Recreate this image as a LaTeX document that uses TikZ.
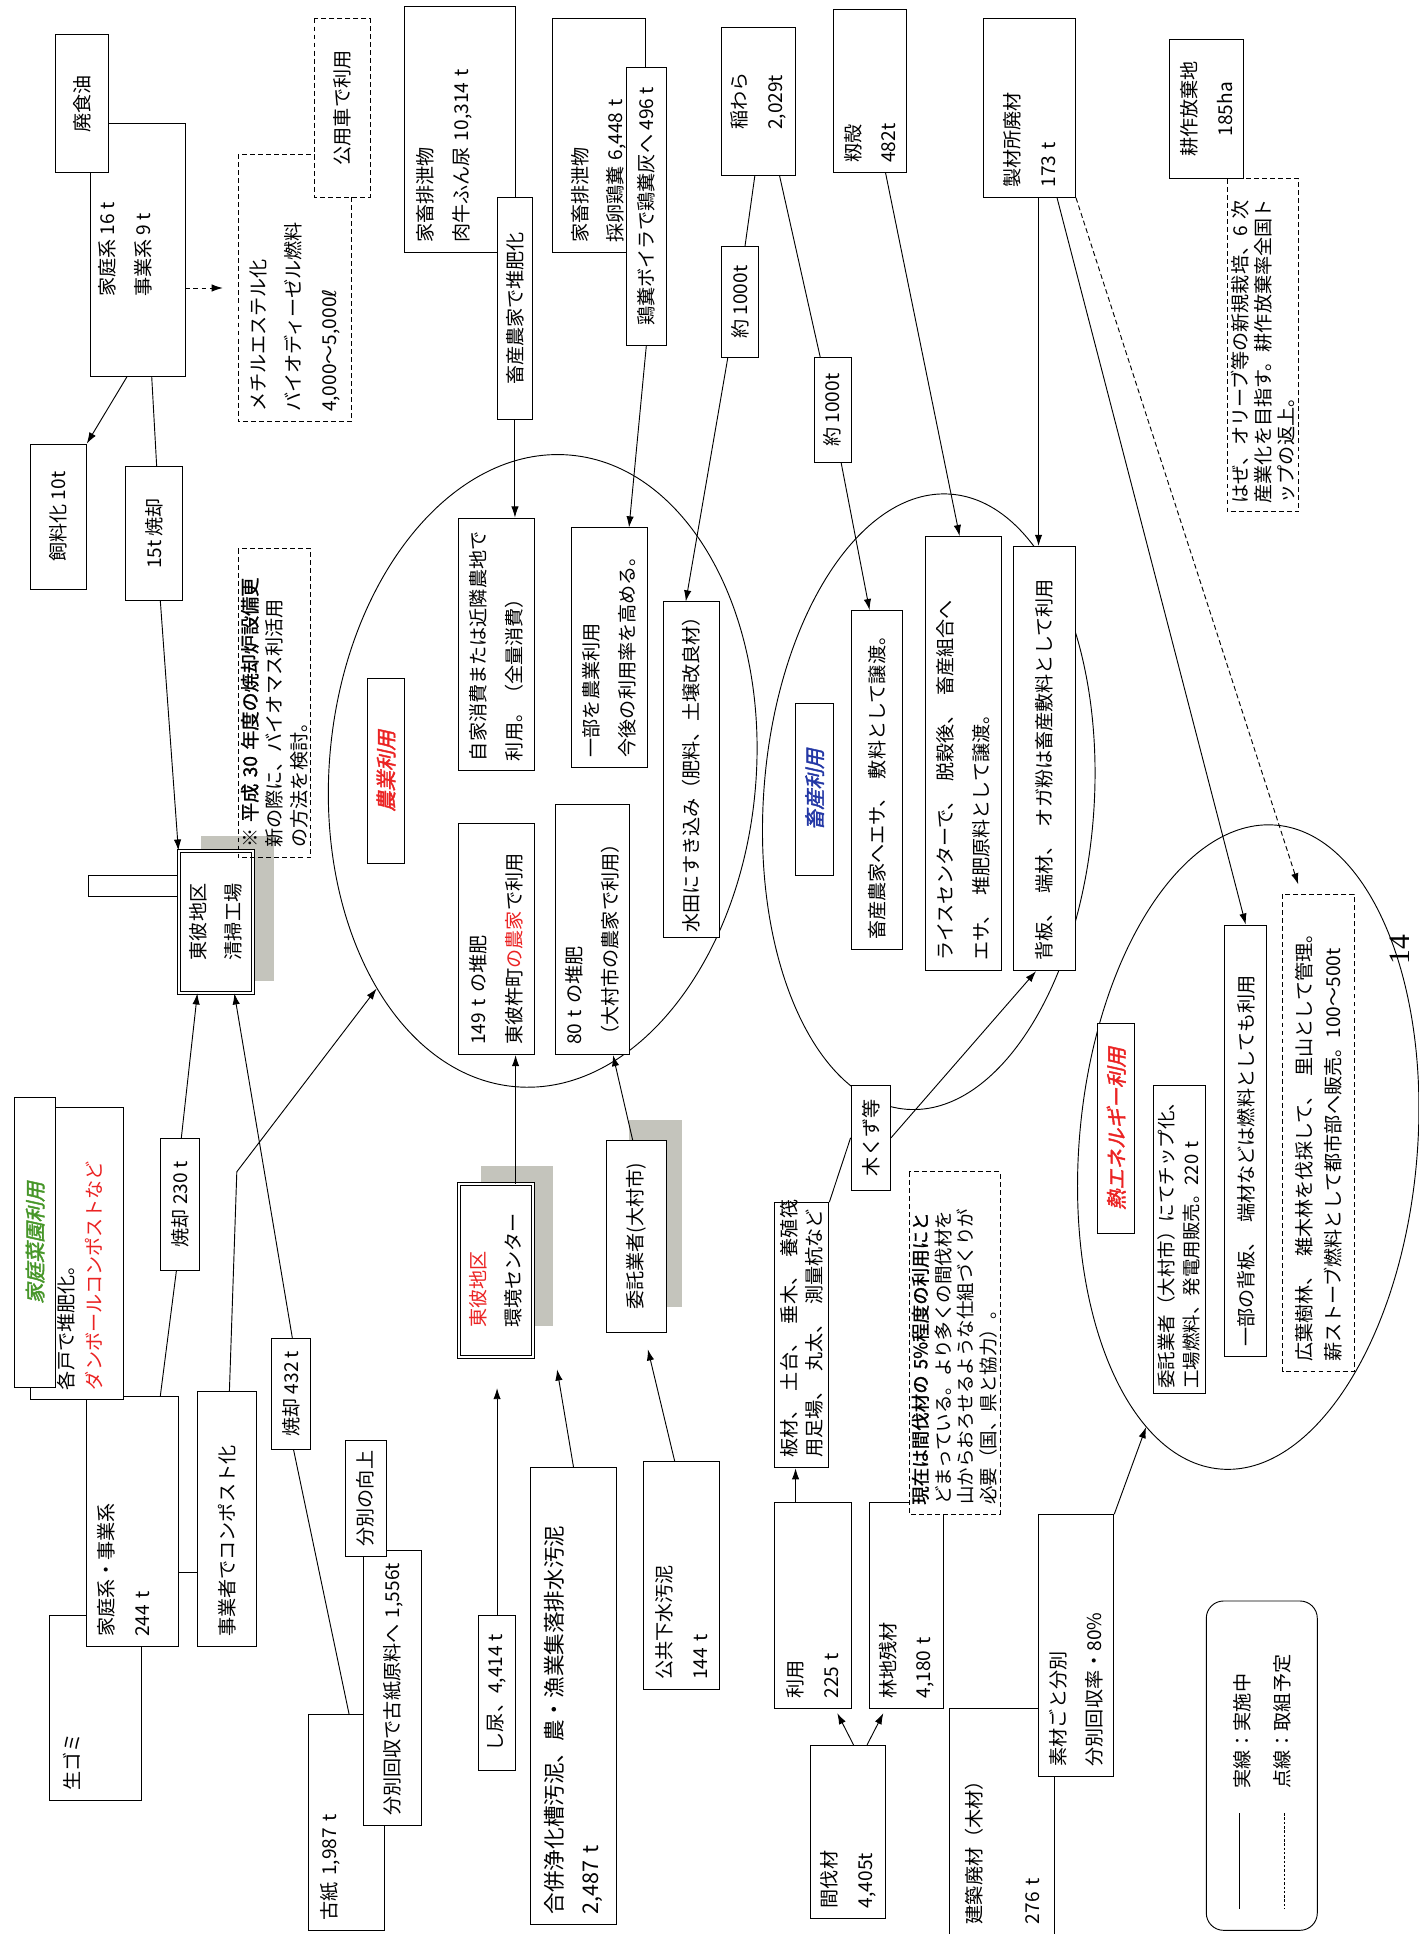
\documentclass[tikz,border=0pt]{standalone}
\usepackage{fontspec}
\setmainfont{Noto Sans CJK JP}
\newfontfamily\jpslant[FakeSlant=0.22,FakeBold=2]{Noto Sans CJK JP}
\newfontfamily\jpbold[FakeBold=1.2]{Noto Sans CJK JP}
\newfontfamily\symfont{DejaVu Sans}
\newfontfamily\pagefont{Liberation Serif}
\usetikzlibrary{shapes.geometric,arrows.meta}

\definecolor{usered}{RGB}{235,35,35}
\definecolor{useblue}{RGB}{35,55,165}
\definecolor{usegreen}{RGB}{70,150,40}
\definecolor{shadowgrey}{RGB}{196,196,188}

\tikzset{every picture/.style={line width=0.75pt}}
\tikzset{
  jbox/.style={draw,fill=white,rotate=90,inner xsep=8pt,inner ysep=2pt,align=left,
    font=\fontsize{15.5}{29}\selectfont},
  dashbox/.style={jbox,dash pattern=on 4pt off 2.5pt},
  dblbox/.style={jbox,double,double distance=1.6pt},
  titlebox/.style={jbox,align=center,font=\fontsize{16.5}{20}\selectfont\jpslant},
  region/.style={draw,ellipse,inner sep=0pt},
  arr/.style={-{Latex[length=9pt,width=6pt]}},
}

\begin{document}
\begin{tikzpicture}[x=1pt,y=1pt,yscale=-1,xscale=1]
\useasboundingbox (0,0) rectangle (1150,1568);

%Shape: Ellipse
\node[region,rotate=-5,minimum width=346pt,minimum height=514pt] (nogyo) at (440,625) {};
%Shape: Ellipse
\node[region,rotate=-4,minimum width=268pt,minimum height=500pt] (chikusan) at (753,650) {};
%Shape: Ellipse
\node[region,rotate=-5,minimum width=274pt,minimum height=524pt] (netsu) at (1012,930) {};

%Shape: Rectangle
\fill[shadowgrey] (163,678) rectangle (222,795);
\fill[shadowgrey] (390,945) rectangle (448,1075);
\fill[shadowgrey] (510,908) rectangle (553,1060);
%Shape: Rectangle
\draw (72,710) rectangle (145,727);

% Text Node
\node[jbox,minimum width=205pt,minimum height=77pt] (kk) at (111.5,202.5) {家庭系 16 t\\事業系 9 t\\[-8pt]\mbox{}};
% Text Node
\node[jbox,align=center,minimum width=112pt,minimum height=43pt] (haishoku) at (66.5,84) {廃食油};
% Text Node
\node[jbox,align=center,minimum width=118pt,minimum height=45pt] (shiryo) at (47.5,419) {飼料化 10t};
% Text Node
\node[jbox,align=center,minimum width=109pt,minimum height=46pt] (shokyaku15) at (125,432.5) {15t 焼却};
% Text Node
\node[dashbox,text width=201pt,minimum height=92pt] (methyl) at (239,233.5) {メチルエステル化\\バイオディーゼル燃料\\4,000～5,000{\symfont ℓ}};
% Text Node
\node[dashbox,align=center,minimum width=145pt,minimum height=45pt] (koyosha) at (277.5,87.5) {公用車で利用};
% Text Node
\node[dblbox,minimum width=115pt,minimum height=60pt] (seiso) at (175,747.5) {東彼地区\\清掃工場};
% Text Node
\node[dashbox,fill=none,text width=234pt,minimum height=59pt,font=\fontsize{15.5}{20}\selectfont] (note30) at (222.5,570) {※ {\jpbold 平成 30 年度の焼却炉設備更}\\新の際に、バイオマス利活用\\の方法を検討。};

% Text Node
\node[jbox,text width=184pt,minimum height=90pt] (haisetsu1) at (373,105) {家畜排泄物\\肉牛ふん尿 10,314 t\\\mbox{}};
% Text Node
\node[jbox,align=center,minimum width=180pt,minimum height=29pt] (taihika) at (417.5,250) {畜産農家で堆肥化};
% Text Node
\node[jbox,text width=174pt,minimum height=75pt] (haisetsu2) at (485.5,110) {家畜排泄物\\採卵鶏糞 6,448 t};
% Text Node
\node[jbox,align=center,minimum width=225pt,minimum height=32pt] (boiler) at (524,167.5) {鶏糞ボイラで鶏糞灰へ 496 t};
% Text Node
\node[jbox,minimum width=120pt,minimum height=60pt] (inawara) at (615,82) {稲わら\\2,029t};
% Text Node
\node[jbox,align=center,minimum width=90pt,minimum height=30pt] (yaku1) at (600,245) {約 1000t};
% Text Node
\node[jbox,align=center,minimum width=85pt,minimum height=30pt] (yaku2) at (675,332.5) {約 1000t};
% Text Node
\node[jbox,text width=116pt,minimum height=59pt] (momigara) at (705.5,74) {籾殻\\482t};
% Text Node
\node[jbox,text width=129pt,minimum height=75pt] (seizai) at (834.5,87.5) {製材所廃材\\173 t};
% Text Node
\node[jbox,align=center,minimum width=113pt,minimum height=60pt] (kosaku) at (978,88.5) {耕作放棄地\\185ha};
% Text Node
\node[dashbox,text width=256pt,inner xsep=7pt,minimum height=58pt,font=\fontsize{15.5}{19}\selectfont] (haze) at (1024,280) {はぜ、オリーブ等の新規栽培、6 次\\産業化を目指す。耕作放棄率全国ト\\ップの返上。};

% Text Node
\node[titlebox,text=usered,minimum width=150pt,minimum height=30pt] (nogyoT) at (313,625) {農業利用};
% Text Node
\node[jbox,text width=189pt,minimum height=61pt] (jika) at (402.5,522.5) {自家消費または近隣農地で\\利用。（全量消費）};
% Text Node
\node[jbox,text width=178pt,minimum height=62pt] (ichibu) at (494,525) {一部を農業利用\\今後の利用率を高める。};
% Text Node
\node[jbox,text width=264pt,inner xsep=4pt,minimum height=45pt] (suiden) at (560.5,624) {水田にすき込み（肥料、土壌改良材）};
% Text Node
\node[jbox,text width=171pt,minimum height=61pt] (t149) at (402.5,761.5) {149 t の堆肥\\東彼杵町{\color{usered}の農家}で利用};
% Text Node
\node[jbox,text width=187pt,minimum height=60pt] (t80) at (480,753.5) {80 t の堆肥\\（大村市の農家で利用）};

% Text Node
\node[titlebox,text=useblue,minimum width=140pt,minimum height=31pt] (chikusanT) at (660.5,640) {畜産利用};
% Text Node
\node[jbox,text width=259pt,minimum height=42pt] (farm) at (711,632.5) {畜産農家へエサ、\enspace 敷料として譲渡。};
% Text Node
\node[jbox,text width=336pt,minimum height=62pt] (rice) at (781,611) {ライスセンターで、\enspace 脱穀後、\enspace 畜産組合へ\\エサ、\enspace 堆肥原料として譲渡。};
% Text Node
\node[jbox,text width=328pt,minimum height=50pt] (seban) at (847,615) {背板、\enspace 端材、\enspace オガ粉は畜産敷料として利用};

% Text Node
\node[titlebox,text=usered,minimum width=170pt,minimum height=30pt] (netsuT) at (905,915) {熱エネルギー利用};
% Text Node
\node[jbox,text width=242pt,inner xsep=4pt,minimum height=42pt,font=\fontsize{15}{20}\selectfont] (chip) at (956,1005) {委託業者（大村市）にてチップ化、\\工場燃料、発電用販売。220 t};
% Text Node
\node[jbox,text width=334pt,minimum height=34pt] (ichibuseban) at (1010,925) {一部の背板、\enspace 端材などは燃料としても利用};
% Text Node
\node[dashbox,text width=371pt,minimum height=58pt,font=\fontsize{15.5}{23}\selectfont] (koyo) at (1069,918.5) {広葉樹林、\enspace 雑木林を伐採して、\enspace 里山として管理。\\薪ストーブ燃料として都市部へ販売。100～500t};
% Text Node
\node[rotate=90,font=\fontsize{24}{24}\selectfont\pagefont] (pagenum) at (1135,770) {14};

% Text Node
\node[jbox,text width=134pt,minimum height=75pt] (namagomi) at (77.5,1385) {生ゴミ\\[10pt]\mbox{}};
% Text Node
\node[jbox,text width=187pt,minimum height=75pt] (k244) at (107.5,1233.5) {家庭系・事業系\\244 t\\[-14pt]\mbox{}};
% Text Node
\node[jbox,text width=221pt,minimum height=75pt,font=\fontsize{15.5}{22}\selectfont] (kakko) at (62.5,1016.5) {\mbox{}\\[-4pt]各戸で堆肥化。\\{\color{usered}ダンボールコンポストなど}};
% Text Node
\node[titlebox,text=usegreen,minimum width=235pt,minimum height=33pt] (saienT) at (28.5,1007.5) {家庭菜園利用};
% Text Node
\node[jbox,align=center,minimum width=107pt,minimum height=32pt] (shokyaku230) at (146,976.5) {焼却 230 t};
% Text Node
\node[jbox,text width=191pt,minimum height=48pt] (jc) at (184,1231.5) {事業者でコンポスト化};
% Text Node
\node[jbox,align=center,minimum width=90pt,minimum height=32pt] (shokyaku432) at (236,1130) {焼却 432 t};
% Text Node
\node[jbox,text width=159pt,minimum height=62pt] (koshi) at (281,1477.5) {古紙 1,987 t\\\mbox{}};
% Text Node
\node[jbox,text width=207pt,minimum height=47pt] (kaishu) at (318.5,1368.5) {分別回収で古紙原料へ 1,556t};
% Text Node
\node[jbox,align=center,minimum width=90pt,minimum height=33pt] (bunbetsu) at (296.5,1215) {分別の向上};

% Text Node
\node[dblbox,minimum width=140pt,minimum height=60pt] (kankyo) at (402,1030) {{\color{usered}東彼地区}\\環境センター};
% Text Node
\node[jbox,align=center,minimum width=155pt,minimum height=48pt] (itaku) at (516,1002.5) {委託業者(大村市)};
% Text Node
\node[jbox,align=center,minimum width=125pt,minimum height=30pt] (shinyo) at (403,1372.5) {し尿、4,414 t};
% Text Node
\node[jbox,text width=354pt,minimum height=70pt,font=\fontsize{17.5}{29}\selectfont] (gappei) at (465,1375) {合併浄化槽汚泥、農・漁業集落排水汚泥\\2,487 t};
% Text Node
\node[jbox,text width=169pt,minimum height=61pt] (koukyo) at (552.5,1277.5) {公共下水汚泥\\144 t};

% Text Node
\node[jbox,text width=124pt,minimum height=61pt] (kanbatsu) at (687.5,1485) {間伐材\\4,405t};
% Text Node
\node[jbox,text width=151pt,minimum height=62pt] (riyo) at (659,1301.5) {利用\\225 t};
% Text Node
\node[jbox,text width=151pt,minimum height=60pt] (rinchi) at (735,1301.5) {林地残材\\4,180 t};
% Text Node
\node[jbox,text width=199pt,minimum height=44pt,font=\fontsize{15.5}{20}\selectfont] (itazai) at (650,1082.5) {板材、\enspace 土台、\enspace 垂木、\enspace 養殖筏\\用足場、\enspace 丸太、\enspace 測量杭など};
% Text Node
\node[jbox,align=center,minimum width=85pt,minimum height=32pt] (kikuzu) at (706,922.5) {木くず等};
% Text Node
\node[dashbox,text width=262pt,minimum height=72pt,font=\fontsize{15}{18.5}\selectfont] (genzai) at (774,1089) {{\jpbold 現在は間伐材の 5\%程度の利用にと}\\どまっている。より多くの間伐材を\\山からおろせるような仕組づくりが\\必要（国、県と協力）。};
% Text Node
\node[jbox,text width=167pt,minimum height=85pt] (kenchiku) at (812.5,1476.5) {建築廃材（木材）\\[18pt]276 t};
% Text Node
\node[jbox,text width=196pt,minimum height=61pt] (sozai) at (872.5,1334) {素材ごと分別\\分別回収率・80\%};

%Shape: Rounded Rectangle
\node[draw,rounded corners=14pt,rotate=90,minimum width=267pt,minimum height=90pt] (legend) at (1023,1431.5) {};
% Text Node
\node[rotate=90,align=left,text width=120pt,inner sep=0pt,font=\fontsize{15.5}{33}\selectfont] (legtext) at (1023.5,1390) {実線：実施中\\点線：取組予定};
\draw (1005,1470) -- (1005,1548);
\draw[dash pattern=on 2pt off 1.5pt] (1041,1470) -- (1041,1548);

%Straight Lines
\draw[arr] (kk.west -| 103,0) -- (shiryo.south east);
\draw (kk.west -| 123,0) -- (shokyaku15.east -| 127,0);
\draw[arr] (shokyaku15.west -| 130,0) -- (seiso.north east);
\draw[arr,dash pattern=on 4pt off 2.5pt,shorten >=12pt] (kk.south |- methyl.north) -- (methyl.north);
\draw[arr] (taihika.west) -- (jika.east -| taihika.west);
\draw[arr] (boiler.west) -- (ichibu.east -| 510,0);
\draw (inawara.west -| 612,0) -- (yaku1.east -| 604,0);
\draw[arr] (yaku1.west -| 590,0) -- (suiden.east -| 556,0);
\draw (inawara.west -| 632,0) -- (yaku2.east -| 665,0);
\draw[arr] (yaku2.west -| 682,0) -- (farm.east -| 705,0);
\draw[arr] (momigara.west -| 718,0) -- (rice.east -| 778,0);
\draw[arr] (seizai.west -| 842,0) -- (seban.east -| 842,0);
\draw[arr] (seizai.west -| 857,0) -- (ichibuseban.east -| 1010,0);
\draw[arr,dash pattern=on 4pt off 2.5pt,shorten >=8pt] (seizai.south west) -- (koyo.east -| 1055,0);
\draw (k244.east -| 130,0) -- (shokyaku230.west -| 143,0);
\draw[arr] (shokyaku230.east -| 147,0) -- (seiso.west -| 160,0);
\coordinate (jcbend) at (192,950);
\draw[arr] (jc.east -| 186,0) -- (jcbend) -- (nogyo);
\draw[arr] (shokyaku432.east -| 237,0) -- (seiso.west -| 190,0);
\draw (koshi.east -| 283,0) -- (shokyaku432.west -| 238,0);
\draw (k244.south |- 0,1275) -- (jc.north |- 0,1275);
\draw[arr] (kankyo.east -| 418,0) -- (t149.west -| 418,0);
\draw[arr] (itaku.east -| 513,0) -- (t80.west -| 497,0);
\draw[arr,shorten >=25pt] (shinyo.east) -- (kankyo.west -| shinyo.east);
\draw[arr,shorten >=10pt] (gappei.east -| 465,0) -- (kankyo.south west -| 450,0);
\draw[arr,shorten >=14pt] (koukyo.east -| 547,0) -- (itaku.west -| 522,0);
\draw[arr,shorten >=4pt] (kanbatsu.east -| 692,0) -- (riyo.west -| 677,0);
\draw[arr,shorten >=4pt] (kanbatsu.east -| 703,0) -- (rinchi.west -| 718,0);
\draw[arr] (riyo.east -| 645,0) -- (itazai.west -| 645,0);
\draw (itazai.south east) -- (kikuzu.north);
\draw[arr] (kikuzu.south) -- (seban.west -| 840,0);
\draw[arr] (sozai.south east) -- (netsu);

\end{tikzpicture}
\end{document}
